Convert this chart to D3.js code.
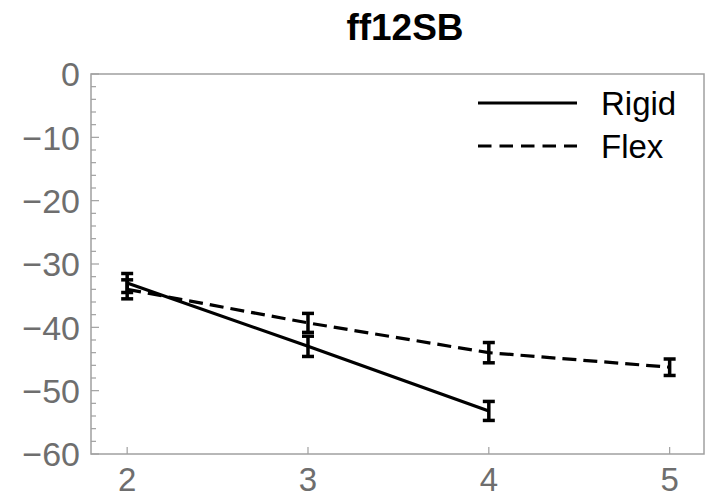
<!DOCTYPE html>
<html>
<head>
<meta charset="utf-8">
<script src="https://cdn.jsdelivr.net/npm/d3@7"></script>
<style>
  body { margin: 0; background: #fff; }
  svg { display: block; font-family: "Liberation Sans", Arial, sans-serif; }
</style>
</head>
<body>
<svg id="chart" width="705" height="498"></svg>
<script>
// values
const xs = [2, 3, 4, 5];
const rigidMean = [-33, -43, -53.2];
const rigidErr = [1.5, 1.6, 1.5];
const flexMean = [-34, -39.3, -44, -46.3];
const flexErr = [1.5, 1.5, 1.6, 1.3];
const yTicks = [0, -10, -20, -30, -40, -50, -60];
const seriesNames = ["Rigid", "Flex"];

const svg = d3.select("#chart");
const margin = { left: 91, right: 1, top: 74, bottom: 44 };
const width = 705, height = 498;

const x = d3.scaleLinear().domain([1.8, 5.19]).range([margin.left, width - margin.right]);
const y = d3.scaleLinear().domain([-60, 0]).range([height - margin.bottom, margin.top]);

const frameColor = "#a0a0a0";
const labelColor = "#6e6e6e";

// title
svg.append("text")
  .attr("x", 405).attr("y", 40)
  .attr("text-anchor", "middle")
  .attr("font-size", 37).attr("font-weight", "bold")
  .text("ff12SB");

// frame
svg.append("rect")
  .attr("x", x.range()[0]).attr("y", y.range()[1])
  .attr("width", x.range()[1] - x.range()[0])
  .attr("height", y.range()[0] - y.range()[1])
  .attr("fill", "none").attr("stroke", frameColor).attr("stroke-width", 1.5);

// y minor ticks
const minor = d3.range(-60, 1, 2).filter(v => v % 10 !== 0);
svg.append("g").selectAll("line").data(minor).join("line")
  .attr("x1", x.range()[0]).attr("x2", x.range()[0] + 5)
  .attr("y1", d => y(d)).attr("y2", d => y(d))
  .attr("stroke", frameColor).attr("stroke-width", 1.2);

// y major ticks + labels
svg.append("g").selectAll("line").data(yTicks).join("line")
  .attr("x1", x.range()[0]).attr("x2", x.range()[0] + 8)
  .attr("y1", d => y(d)).attr("y2", d => y(d))
  .attr("stroke", frameColor).attr("stroke-width", 1.2);

svg.append("g").selectAll("text").data(yTicks).join("text")
  .attr("x", 80).attr("y", d => y(d))
  .attr("dy", "0.36em")
  .attr("text-anchor", "end")
  .attr("font-size", 34).attr("fill", labelColor)
  .text(d => d === 0 ? "0" : "\u2212" + Math.abs(d));

// x ticks + labels
svg.append("g").selectAll("line").data(xs).join("line")
  .attr("x1", d => x(d)).attr("x2", d => x(d))
  .attr("y1", y.range()[0]).attr("y2", y.range()[0] - 7)
  .attr("stroke", frameColor).attr("stroke-width", 1.2);

svg.append("g").selectAll("text").data(xs).join("text")
  .attr("x", d => x(d)).attr("y", 491)
  .attr("text-anchor", "middle")
  .attr("font-size", 33).attr("fill", labelColor)
  .text(d => d);

// series
const series = [
  { name: seriesNames[0], mean: rigidMean, err: rigidErr, dash: null },
  { name: seriesNames[1], mean: flexMean, err: flexErr, dash: "14,7" }
];

const line = d3.line().x(d => x(d.x)).y(d => y(d.m));

series.forEach(s => {
  const pts = s.mean.map((m, i) => ({ x: xs[i], m: m, e: s.err[i] }));
  svg.append("path")
    .datum(pts)
    .attr("d", line)
    .attr("fill", "none")
    .attr("stroke", "#000")
    .attr("stroke-width", 3.2)
    .attr("stroke-dasharray", s.dash);

  const g = svg.append("g").attr("stroke", "#000");
  g.selectAll("line.v").data(pts).join("line")
    .attr("class", "v")
    .attr("x1", d => x(d.x)).attr("x2", d => x(d.x))
    .attr("y1", d => y(d.m - d.e)).attr("y2", d => y(d.m + d.e))
    .attr("stroke-width", 3.5);
  g.selectAll("line.t").data(pts).join("line")
    .attr("class", "t")
    .attr("x1", d => x(d.x) - 6).attr("x2", d => x(d.x) + 6)
    .attr("y1", d => y(d.m + d.e)).attr("y2", d => y(d.m + d.e))
    .attr("stroke-width", 3.5);
  g.selectAll("line.b").data(pts).join("line")
    .attr("class", "b")
    .attr("x1", d => x(d.x) - 6).attr("x2", d => x(d.x) + 6)
    .attr("y1", d => y(d.m - d.e)).attr("y2", d => y(d.m - d.e))
    .attr("stroke-width", 3.5);
});

// legend
const legend = svg.append("g");
series.forEach((s, i) => {
  const ly = 103 + i * 43;
  legend.append("line")
    .attr("x1", 478).attr("x2", 577)
    .attr("y1", ly).attr("y2", ly)
    .attr("stroke", "#000").attr("stroke-width", 3.2)
    .attr("stroke-dasharray", s.dash ? "13.5,8" : null);
  legend.append("text")
    .attr("x", 601).attr("y", ly)
    .attr("dy", "0.36em")
    .attr("font-size", 33)
    .text(s.name);
});
</script>
</body>
</html>
